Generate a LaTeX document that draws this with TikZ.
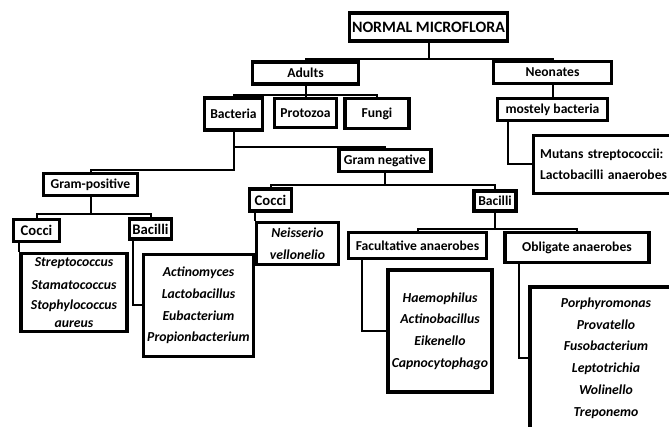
\documentclass[tikz,border=0pt]{standalone}
\usepackage{fontspec}
\setmainfont{Carlito}
\usetikzlibrary{calc,shadows}

\begin{document}
\begin{tikzpicture}[x=0.75pt,y=-0.75pt,
    box/.style={draw=black, line width=2.3pt, fill=white, inner sep=1.2pt,
      font=\bfseries\fontsize{10.2}{12}\selectfont,
      drop shadow={shadow xshift=1.2pt, shadow yshift=-1.2pt, opacity=.35}},
    list/.style={box, align=center, font=\bfseries\itshape\fontsize{10.3}{16.3}\selectfont},
    link/.style={draw=black, line width=1.5pt}]
    \useasboundingbox (0,0) rectangle (669,427);

    % top levels
    \node[box, minimum width=118pt, minimum height=21pt, font=\bfseries\fontsize{11.9}{14}\selectfont] (nm) at (428.5,27) {NORMAL MICROFLORA};
    \node[box, minimum width=80pt, minimum height=16.5pt] (adults) at (305.5,73) {Adults};
    \node[box, minimum width=89pt, minimum height=16pt] (neo) at (552.5,72.5) {Neonates};
    \node[box, minimum width=43pt, minimum height=24pt] (bact) at (233.5,114) {Bacteria};
    \node[box, minimum width=46pt, minimum height=22pt] (proto) at (305.5,113) {Protozoa};
    \node[box, minimum width=48pt, minimum height=22.5pt] (fungi) at (377,113.5) {Fungi};
    \node[box, minimum width=82pt, minimum height=17pt] (mostly) at (552.5,109.5) {mostely bacteria};
    \node[box, anchor=west, text width=108pt, align=left, inner xsep=5pt, minimum height=43pt,
      font=\bfseries\fontsize{10.2}{15.8}\selectfont] (mutans) at (532,164.5) {Mutans streptococcii:\\Lactobacilli anaerobes};

    % gram groups
    \node[box, minimum width=69pt, minimum height=17pt] (gneg) at (385,160.5) {Gram negative};
    \node[box, minimum width=70pt, minimum height=17pt] (gpos) at (90.5,184.5) {Gram-positive};
    \node[box, minimum width=32pt, minimum height=16.5pt, font=\bfseries\fontsize{11}{12}\selectfont] (gncocci) at (270.5,200) {Cocci};
    \node[box, minimum width=31.5pt, minimum height=15pt] (gnbac) at (495,201) {Bacilli};
    \node[box, minimum width=34pt, minimum height=17pt, font=\bfseries\fontsize{11}{12}\selectfont] (gpcocci) at (36.5,230.5) {Cocci};
    \node[box, minimum width=32pt, minimum height=15pt, font=\bfseries\fontsize{11}{12}\selectfont] (gpbac) at (150.5,229) {Bacilli};
    \node[box, minimum width=103pt, minimum height=19pt] (facult) at (417.5,245.5) {Facultative anaerobes};
    \node[box, minimum width=108pt, minimum height=22pt] (oblig) at (577,247.5) {Obligate anaerobes};

    % genus lists
    \node[list, minimum width=79.5pt, minimum height=59pt] (strep) at (74,292.5)
      {Streptococcus\\[1pt]Stamatococcus\\[-1.3pt]Stophylococcus\\[-3.5pt]aureus};
    \node[list, minimum width=83pt, minimum height=77pt] (actino) at (198.5,305.5)
      {Actinomyces\\Lactobacillus\\Eubacterium\\Propionbacterium};
    \node[list, minimum width=62pt, minimum height=31pt] (neiss) at (297.5,243.5)
      {Neisserio\\vellonelio};
    \node[list, minimum width=78pt, minimum height=91.5pt] (haemo) at (440,331)
      {Haemophilus\\Actinobacillus\\Eikenello\\Capnocytophago};
    \node[list, minimum width=114pt, minimum height=106.5pt] (porph) at (606,358)
      {Porphyromonas\\Provatello\\Fusobacterium\\Leptotrichia\\Wolinello\\Treponemo};

    % connectors
    \draw[link] (nm.south) -- ++(0,16) -| (adults.north);
    \draw[link] (nm.south) -- ++(0,16) -| (neo.north);
    \draw[link] (adults.south) -- ++(0,9) -| (bact.north);
    \draw[link] (adults.south) -- (proto.north);
    \draw[link] (adults.south) -- ++(0,9) -| (fungi.north);
    \draw[link] (neo.south) -- (mostly.north);
    \draw[link] ($(mostly.south west)+(12,0)$) |- (mutans.west);
    \draw[link] (bact.south) -- ++(0,15) -| (gneg.north);
    \draw[link] (bact.south) -- ++(0,38) -| (gpos.north);
    \draw[link] (gpos.south) -- ++(0,17) -| (gpcocci.north);
    \draw[link] (gpos.south) -- ++(0,17) -| (gpbac.north);
    \draw[link] (gpcocci.south -| strep.west) -- (strep.north west);
    \draw[link] ($(gpbac.south west)+(5,0)$) |- (actino.west);
    \draw[link] (gneg.south) -- ++(0,12) -| (gncocci.north);
    \draw[link] (gneg.south) -- ++(0,12) -| (gnbac.north);
    \draw[link] (gncocci.south -| neiss.west) -- (neiss.north west);
    \draw[link] (gnbac.south) -- ++(0,16) -| (facult.north);
    \draw[link] (gnbac.south) -- ++(0,16) -| (oblig.north);
    \draw[link] ($(facult.south west)+(15,0)$) |- (haemo.west);
    \draw[link] ($(oblig.south west)+(16,0)$) |- (porph.west);

    % \draw[help lines] (0,0) grid[step=50] (669,427);
\end{tikzpicture}
\end{document}
